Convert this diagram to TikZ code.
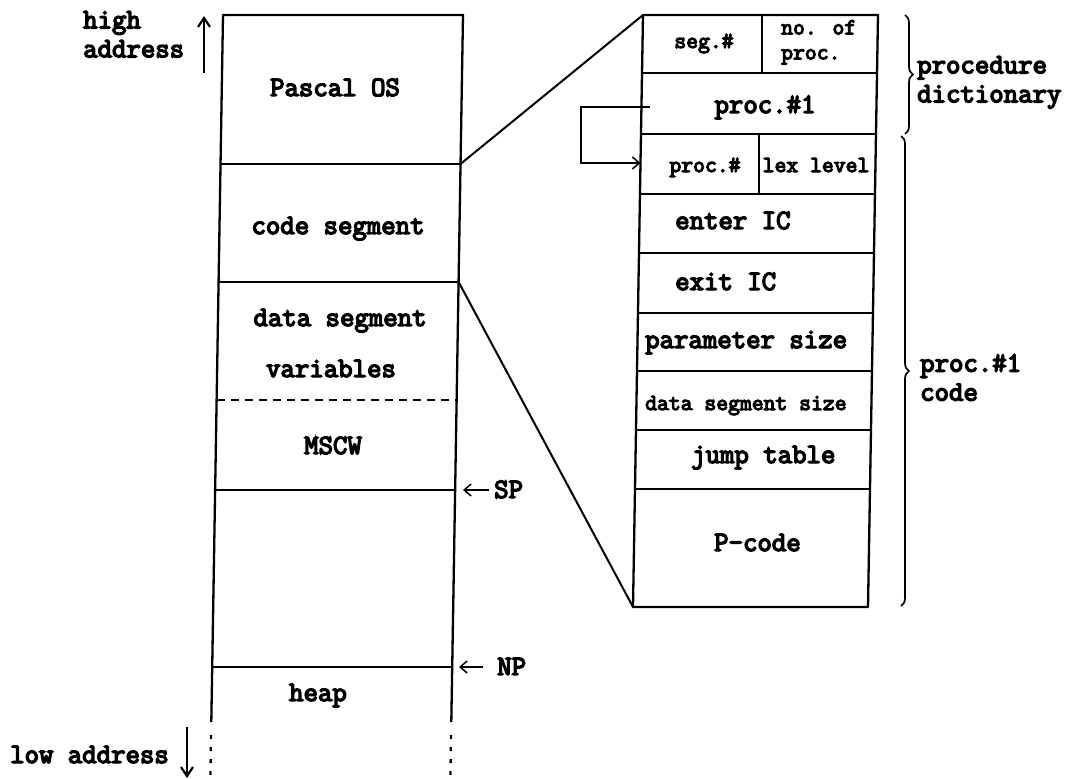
\documentclass[tikz,border=0pt]{standalone}
\usepackage{fontspec}
\newfontfamily\tw{Latin Modern Mono}[FakeBold=5]
\usetikzlibrary{arrows.meta,decorations.pathreplacing}
\begin{document}
\begin{tikzpicture}[x=1pt,y=-1pt,
  frame/.style={line width=2.3pt, line join=round},
  rule/.style={line width=2pt},
  dashrule/.style={line width=1.7pt, dash pattern=on 8pt off 6pt},
  dotrule/.style={line width=2.3pt, dash pattern=on 4pt off 8pt},
  big/.style={font=\tw\fontsize{28}{29}\selectfont, inner sep=0pt},
  small/.style={font=\tw\fontsize{23}{25}\selectfont, inner sep=0pt},
  ptr/.style={line width=1.5pt, -{Straight Barb[length=7pt,width=12pt]}},
  dirarrow/.style={line width=2.2pt, -{Straight Barb[length=9pt,width=12pt]}},
  bracestyle/.style={line width=1.7pt, decorate, decoration={brace, amplitude=8pt}}]
\useasboundingbox (0,0) rectangle (1085,779);

% left column corners
\coordinate (A1) at (223,15);   \coordinate (A2) at (463,15);
\coordinate (B1) at (220.5,164);\coordinate (B2) at (460.5,164);
\coordinate (C1) at (218.6,282);\coordinate (C2) at (458.6,282);
\coordinate (D1) at (216.6,400);\coordinate (D2) at (456.6,400);
\coordinate (E1) at (215.2,490);\coordinate (E2) at (455.2,490);
\coordinate (F1) at (212.2,667);\coordinate (F2) at (452.2,667);
\coordinate (G1) at (211.3,722);\coordinate (G2) at (451.3,722);
\coordinate (H1) at (211,735);  \coordinate (H2) at (451,735);
\coordinate (K1) at (210.4,779);\coordinate (K2) at (450.4,779);

\draw[frame] (G1) -- (A1) -- (A2) -- (G2);
\draw[rule] (B1) -- (B2);
\draw[rule] (C1) -- (C2);
\draw[dashrule] (D1) -- (D2);
\draw[rule] (E1) -- (E2);
\draw[rule] (F1) -- (F2);
\draw[dotrule] (H1) -- (K1);
\draw[dotrule] (H2) -- (K2);

% right column corners
\coordinate (P0) at (643,15);  \coordinate (Q0) at (878,15);
\coordinate (P1) at (642,73);  \coordinate (Q1) at (877,73);
\coordinate (P2) at (641,134); \coordinate (Q2) at (876,134);
\coordinate (P3) at (640,194); \coordinate (Q3) at (875,194);
\coordinate (P4) at (639,253); \coordinate (Q4) at (874,253);
\coordinate (P5) at (638,313); \coordinate (Q5) at (873,313);
\coordinate (P6) at (637,371); \coordinate (Q6) at (872,371);
\coordinate (P7) at (636,430); \coordinate (Q7) at (871,430);
\coordinate (P8) at (635,489); \coordinate (Q8) at (870,489);
\coordinate (P9) at (633,607); \coordinate (Q9) at (868,607);
\coordinate (V1) at (762,15);  \coordinate (V2) at (762,73);
\coordinate (W1) at (759,134); \coordinate (W2) at (759,194);

\draw[frame] (P0) -- (Q0) -- (Q9) -- (P9) -- cycle;
\foreach \i in {1,...,8} \draw[rule] (P\i) -- (Q\i);
\draw[rule] (V1) -- (V2);
\draw[rule] (W1) -- (W2);

% wedge lines
\draw[rule] (B2) -- (P0);
\draw[rule] (C2) -- (P9);

% pointer from proc.#1 to proc.#
\coordinate (pa) at (650,107);
\coordinate (pb) at (581,107);
\coordinate (pc) at (581,163);
\coordinate (pin) at (640.5,163);
\draw[ptr] (pa) -- (pb) -- (pc) -- (pin);

% braces
\coordinate (br1a) at (905,15);  \coordinate (br1b) at (905,134);
\coordinate (br2a) at (901,136); \coordinate (br2b) at (901,606);
\draw[bracestyle] (br1a) -- (br1b);
\draw[bracestyle] (br2a) -- (br2b);

% address arrows
\coordinate (hiA) at (204,73);  \coordinate (hiB) at (204,16);
\coordinate (loA) at (187,727); \coordinate (loB) at (187,778);
\draw[dirarrow] (hiA) -- (hiB);
\draw[dirarrow] (loA) -- (loB);

% SP / NP
\coordinate (spA) at (489,490); \coordinate (spB) at (463,490);
\coordinate (npA) at (483,667); \coordinate (npB) at (459,667);
\draw[ptr] (spA) -- (spB);
\draw[ptr] (npA) -- (npB);
\node[big, anchor=base west] (sp) at (494,498) {SP};
\node[big, anchor=base west] (np) at (497,675) {NP};

% left texts
\node[big, anchor=north west, align=left] (high) at (83,11) {high\\address};
\node[big, anchor=base west] (low) at (10,763) {low address};
\node[big, anchor=base] (pos) at (335,96) {Pascal OS};
\node[big, anchor=base] (cseg) at (338,234) {code segment};
\node[big, anchor=base] (dseg) at (340,326) {data segment};
\node[big, anchor=base] (vars) at (331,377) {variables};
\node[big, anchor=base] (mscw) at (333,454) {MSCW};
\node[big, anchor=base] (heap) at (318,701) {heap};

% right column texts
\node[small, anchor=base] (seg) at (704,48) {seg.\#};
\node[small, anchor=north west, align=left] (nof) at (781,20) {no. of\\proc.};
\node[big, anchor=base] (p1) at (765,113) {proc.\#1};
\node[small, anchor=base] (pnum) at (705,172) {proc.\#};
\node[small, anchor=base] (lex) at (816,172) {lex level};
\node[big, anchor=base west] (enter) at (675,229) {enter IC};
\node[big, anchor=base west] (exit) at (675,290) {exit IC};
\node[big, anchor=base west] (param) at (645,348) {parameter size};
\node[small, anchor=base west] (dss) at (645,410) {data segment size};
\node[big, anchor=base west] (jump) at (691,463) {jump table};
\node[big, anchor=base west] (pcode) at (714,551) {P-code};

% brace labels
\node[big, anchor=north west, align=left] (pd) at (917,56) {procedure\\dictionary};
\node[big, anchor=north west, align=left] (pc) at (920,354) {proc.\#1\\code};
\end{tikzpicture}
\end{document}
